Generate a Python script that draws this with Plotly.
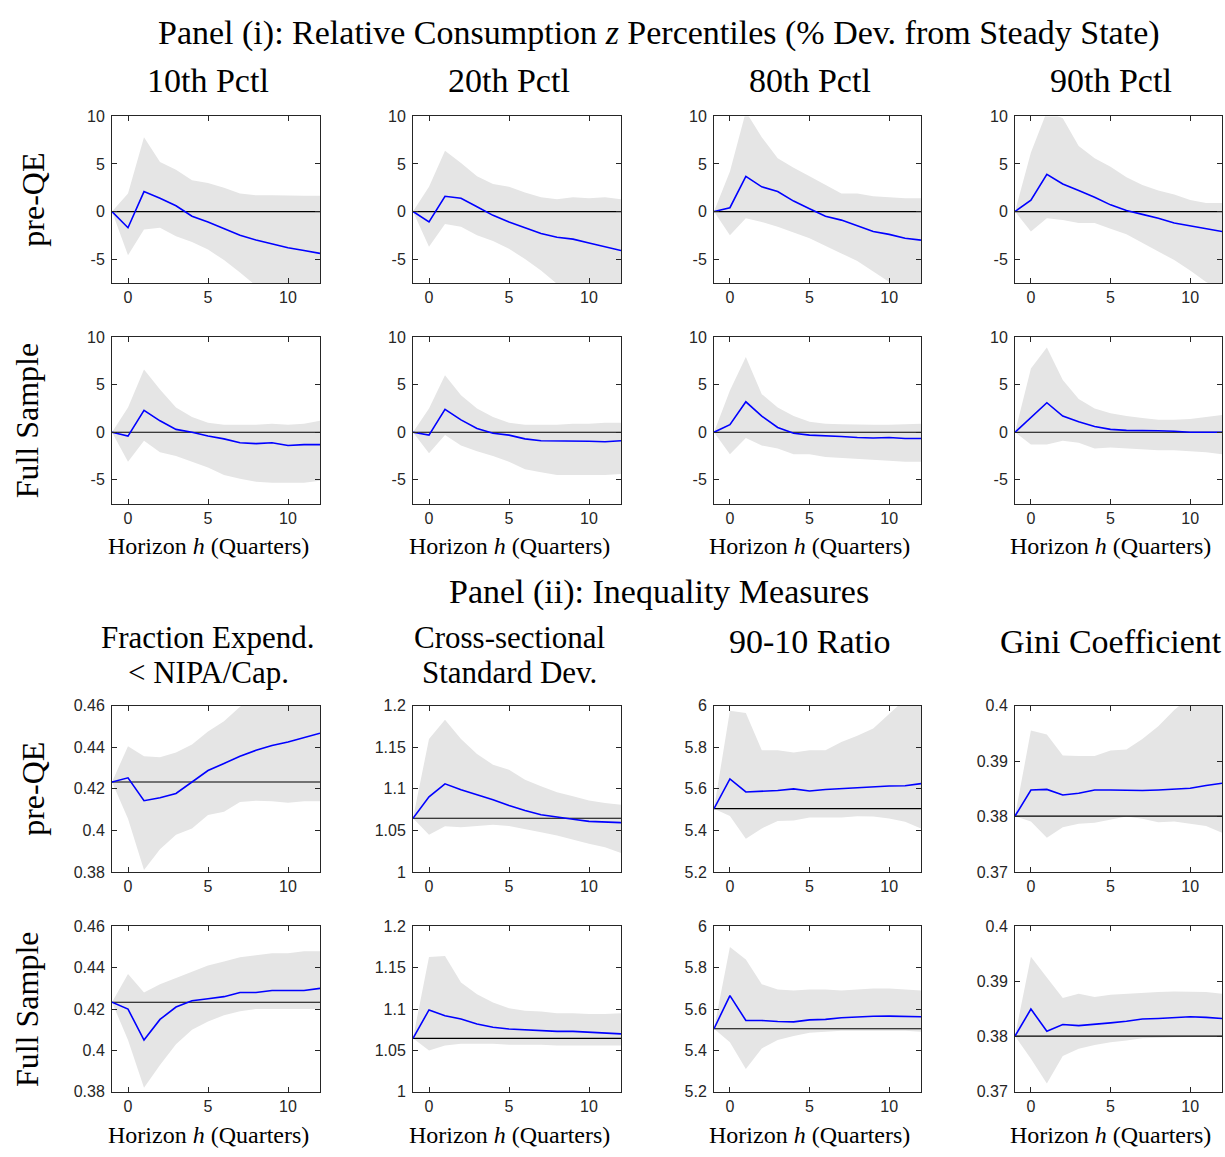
import plotly.graph_objects as go
from plotly.subplots import make_subplots

W, H = 1225, 1157

horizon = list(range(-1, 13))

# ---------------- Panel (i): relative consumption percentiles (% dev.) ----------------
# pre-QE
c10_pre_irf = [0, -1.7, 2.1, 1.4, 0.6, -0.5, -1.1, -1.8, -2.5, -3.0, -3.4, -3.8, -4.1, -4.4]
c10_pre_hi = [0, 1.9, 7.8, 5.2, 4.4, 3.3, 3.0, 2.5, 1.9, 1.7, 1.7, 1.65, 1.65, 1.65]
c10_pre_lo = [0, -4.6, -1.9, -1.7, -2.6, -3.2, -4.0, -5.1, -6.4, -7.8, -8.8, -9.8, -10.8, -11.8]

c20_pre_irf = [0, -1.1, 1.6, 1.4, 0.5, -0.4, -1.1, -1.7, -2.3, -2.7, -2.9, -3.3, -3.7, -4.1]
c20_pre_hi = [0, 2.6, 6.4, 5.1, 3.7, 2.9, 2.6, 2.0, 1.5, 1.3, 1.5, 1.4, 1.5, 1.3]
c20_pre_lo = [0, -3.7, -1.3, -1.6, -2.5, -3.1, -3.9, -5.0, -6.2, -7.6, -8.6, -9.6, -10.6, -11.6]

c80_pre_irf = [0, 0.4, 3.7, 2.6, 2.1, 1.1, 0.3, -0.5, -0.9, -1.5, -2.1, -2.4, -2.8, -3.0]
c80_pre_hi = [0, 4.2, 10.5, 7.8, 5.6, 4.6, 3.7, 2.8, 1.9, 1.9, 1.6, 1.5, 1.4, 1.4]
c80_pre_lo = [0, -2.5, -0.7, -1.1, -1.6, -2.2, -2.8, -3.6, -4.4, -5.2, -6.3, -7.4, -8.5, -9.5]

c90_pre_irf = [0, 1.2, 3.9, 2.9, 2.2, 1.5, 0.7, 0.1, -0.3, -0.7, -1.2, -1.5, -1.8, -2.1]
c90_pre_hi = [0, 6.2, 10.5, 9.8, 6.9, 5.6, 4.7, 3.6, 2.8, 2.2, 1.8, 1.2, 0.9, 0.9]
c90_pre_lo = [0, -2.1, -0.7, -0.9, -1.2, -1.2, -1.8, -2.4, -3.3, -4.2, -5.1, -6.2, -7.4, -8.3]

# full sample
c10_full_irf = [0, -0.4, 2.3, 1.2, 0.3, 0.0, -0.4, -0.7, -1.1, -1.2, -1.1, -1.4, -1.3, -1.3]
c10_full_hi = [0, 2.6, 6.6, 4.5, 2.6, 1.6, 1.0, 0.8, 0.8, 0.8, 0.9, 0.8, 0.9, 1.2]
c10_full_lo = [0, -3.1, -0.9, -2.1, -2.5, -3.1, -3.7, -4.5, -4.9, -5.2, -5.3, -5.3, -5.3, -5.1]

c20_full_irf = [0, -0.3, 2.4, 1.3, 0.4, -0.1, -0.3, -0.7, -0.9, -0.9, -0.9, -0.95, -1.0, -0.9]
c20_full_hi = [0, 2.5, 6.0, 3.9, 2.5, 1.6, 1.0, 0.8, 0.8, 0.8, 0.9, 0.9, 1.0, 1.0]
c20_full_lo = [0, -2.2, -0.3, -1.4, -2.0, -2.5, -3.1, -3.9, -4.2, -4.5, -4.5, -4.5, -4.5, -4.4]

c80_full_irf = [0, 0.8, 3.2, 1.7, 0.5, -0.1, -0.3, -0.35, -0.45, -0.55, -0.6, -0.55, -0.65, -0.65]
c80_full_hi = [0, 4.4, 7.9, 4.0, 2.6, 1.7, 1.1, 0.9, 0.85, 0.8, 0.8, 0.8, 0.85, 0.9]
c80_full_lo = [0, -2.3, -0.6, -1.4, -1.7, -2.3, -2.3, -2.6, -2.7, -2.8, -2.9, -3.0, -3.1, -3.1]

c90_full_irf = [0, 1.5, 3.1, 1.7, 1.1, 0.6, 0.3, 0.2, 0.2, 0.15, 0.1, 0.0, 0.0, 0.0]
c90_full_hi = [0, 6.7, 8.9, 5.5, 3.5, 2.5, 2.0, 1.7, 1.5, 1.3, 1.3, 1.4, 1.6, 1.8]
c90_full_lo = [0, -1.3, -1.3, -0.9, -1.1, -1.7, -1.6, -1.7, -1.8, -1.9, -1.9, -2.0, -2.1, -2.3]

# ---------------- Panel (ii): inequality measures (levels) ----------------
frac_ss = 0.4233
frac_pre_irf = [0.4233, 0.4253, 0.4143, 0.4157, 0.4178, 0.4235, 0.4288, 0.4322, 0.4357, 0.4385, 0.4408, 0.4425, 0.4445, 0.4467]
frac_pre_hi = [0.4233, 0.4405, 0.4357, 0.4352, 0.4375, 0.4413, 0.4475, 0.4525, 0.4595, 0.465, 0.47, 0.475, 0.48, 0.485]
frac_pre_lo = [0.4233, 0.4056, 0.381, 0.391, 0.398, 0.401, 0.4075, 0.409, 0.4137, 0.4143, 0.414, 0.4133, 0.414, 0.414]
frac_full_irf = [0.4233, 0.420, 0.405, 0.415, 0.421, 0.424, 0.425, 0.426, 0.428, 0.428, 0.429, 0.429, 0.429, 0.430]
frac_full_hi = [0.4233, 0.437, 0.428, 0.432, 0.435, 0.438, 0.441, 0.443, 0.445, 0.446, 0.447, 0.447, 0.448, 0.448]
frac_full_lo = [0.4233, 0.405, 0.382, 0.393, 0.403, 0.410, 0.414, 0.417, 0.419, 0.420, 0.420, 0.420, 0.420, 0.420]

sd_ss = 1.0647
sd_pre_irf = [1.0647, 1.0905, 1.106, 1.099, 1.093, 1.087, 1.080, 1.074, 1.069, 1.066, 1.0635, 1.061, 1.0605, 1.0595]
sd_pre_hi = [1.0647, 1.16, 1.183, 1.16, 1.142, 1.129, 1.123, 1.111, 1.103, 1.096, 1.091, 1.086, 1.083, 1.081]
sd_pre_lo = [1.0647, 1.045, 1.055, 1.054, 1.0555, 1.057, 1.0555, 1.052, 1.048, 1.044, 1.039, 1.034, 1.030, 1.023]
sd_full_irf = [1.0647, 1.099, 1.092, 1.088, 1.082, 1.078, 1.076, 1.075, 1.074, 1.073, 1.073, 1.072, 1.071, 1.070]
sd_full_hi = [1.0647, 1.163, 1.164, 1.132, 1.118, 1.108, 1.101, 1.098, 1.097, 1.095, 1.095, 1.094, 1.094, 1.095]
sd_full_lo = [1.0647, 1.050, 1.056, 1.058, 1.058, 1.058, 1.057, 1.057, 1.057, 1.056, 1.056, 1.056, 1.056, 1.056]

r9010_ss = 5.505
r9010_pre_irf = [5.505, 5.648, 5.585, 5.587, 5.592, 5.600, 5.590, 5.597, 5.602, 5.606, 5.610, 5.614, 5.615, 5.625]
r9010_pre_hi = [5.505, 5.975, 5.965, 5.785, 5.785, 5.775, 5.785, 5.785, 5.825, 5.855, 5.89, 5.96, 6.03, 6.08]
r9010_pre_lo = [5.505, 5.47, 5.36, 5.41, 5.445, 5.448, 5.462, 5.462, 5.462, 5.468, 5.467, 5.458, 5.442, 5.41]
r9010_full_irf = [5.505, 5.665, 5.545, 5.545, 5.540, 5.538, 5.548, 5.550, 5.558, 5.562, 5.565, 5.566, 5.566, 5.563]
r9010_full_hi = [5.505, 5.90, 5.84, 5.72, 5.695, 5.69, 5.695, 5.695, 5.69, 5.695, 5.70, 5.70, 5.695, 5.69]
r9010_full_lo = [5.505, 5.44, 5.31, 5.41, 5.45, 5.47, 5.485, 5.49, 5.495, 5.495, 5.495, 5.495, 5.495, 5.49]

gini_ss = 0.3801
gini_pre_irf = [0.3801, 0.3848, 0.3849, 0.3839, 0.3842, 0.3848, 0.3848, 0.3847, 0.3847, 0.3848, 0.3849, 0.3851, 0.3856, 0.3860]
gini_pre_hi = [0.3801, 0.3955, 0.3948, 0.391, 0.3909, 0.3909, 0.3919, 0.3921, 0.394, 0.3963, 0.3992, 0.4015, 0.404, 0.406]
gini_pre_lo = [0.3801, 0.3791, 0.3762, 0.3781, 0.3787, 0.3789, 0.3795, 0.3800, 0.3796, 0.3790, 0.3791, 0.3787, 0.3783, 0.3771]
gini_full_irf = [0.3801, 0.385, 0.381, 0.3822, 0.382, 0.3822, 0.3825, 0.3828, 0.3832, 0.3833, 0.3835, 0.3836, 0.3835, 0.3833]
gini_full_hi = [0.3801, 0.3945, 0.3907, 0.387, 0.3878, 0.3872, 0.3876, 0.3878, 0.388, 0.3881, 0.3882, 0.3882, 0.3881, 0.3878]
gini_full_lo = [0.3801, 0.376, 0.3715, 0.3765, 0.3778, 0.3785, 0.379, 0.3793, 0.3797, 0.3798, 0.3799, 0.38, 0.38, 0.38]

# tick labels
cons_ticks = [-5, 0, 5, 10]
cons_ticktext = ["-5", "0", "5", "10"]
frac_ticks = [0.38, 0.40, 0.42, 0.44, 0.46]
frac_ticktext = ["0.38", "0.4", "0.42", "0.44", "0.46"]
sd_ticks = [1.0, 1.05, 1.1, 1.15, 1.2]
sd_ticktext = ["1", "1.05", "1.1", "1.15", "1.2"]
r9010_ticks = [5.2, 5.4, 5.6, 5.8, 6.0]
r9010_ticktext = ["5.2", "5.4", "5.6", "5.8", "6"]
gini_ticks = [0.37, 0.38, 0.39, 0.40]
gini_ticktext = ["0.37", "0.38", "0.39", "0.4"]
x_ticks = [0, 5, 10]

col_titles_i = ["10th Pctl", "20th Pctl", "80th Pctl", "90th Pctl"]
col_titles_ii = [["Fraction Expend.", "&lt; NIPA/Cap."], ["Cross-sectional", "Standard Dev."],
                 ["90-10 Ratio"], ["Gini Coefficient"]]
row_labels = ["pre-QE", "Full Sample", "pre-QE", "Full Sample"]

panels = [
    # row, col, irf, lo, hi, ss, yrange, ticks, ticktext
    (1, 1, c10_pre_irf, c10_pre_lo, c10_pre_hi, 0, [-7.5, 10], cons_ticks, cons_ticktext),
    (1, 2, c20_pre_irf, c20_pre_lo, c20_pre_hi, 0, [-7.5, 10], cons_ticks, cons_ticktext),
    (1, 3, c80_pre_irf, c80_pre_lo, c80_pre_hi, 0, [-7.5, 10], cons_ticks, cons_ticktext),
    (1, 4, c90_pre_irf, c90_pre_lo, c90_pre_hi, 0, [-7.5, 10], cons_ticks, cons_ticktext),
    (2, 1, c10_full_irf, c10_full_lo, c10_full_hi, 0, [-7.5, 10], cons_ticks, cons_ticktext),
    (2, 2, c20_full_irf, c20_full_lo, c20_full_hi, 0, [-7.5, 10], cons_ticks, cons_ticktext),
    (2, 3, c80_full_irf, c80_full_lo, c80_full_hi, 0, [-7.5, 10], cons_ticks, cons_ticktext),
    (2, 4, c90_full_irf, c90_full_lo, c90_full_hi, 0, [-7.5, 10], cons_ticks, cons_ticktext),
    (3, 1, frac_pre_irf, frac_pre_lo, frac_pre_hi, frac_ss, [0.38, 0.46], frac_ticks, frac_ticktext),
    (3, 2, sd_pre_irf, sd_pre_lo, sd_pre_hi, sd_ss, [1.0, 1.2], sd_ticks, sd_ticktext),
    (3, 3, r9010_pre_irf, r9010_pre_lo, r9010_pre_hi, r9010_ss, [5.2, 6.0], r9010_ticks, r9010_ticktext),
    (3, 4, gini_pre_irf, gini_pre_lo, gini_pre_hi, gini_ss, [0.37, 0.40], gini_ticks, gini_ticktext),
    (4, 1, frac_full_irf, frac_full_lo, frac_full_hi, frac_ss, [0.38, 0.46], frac_ticks, frac_ticktext),
    (4, 2, sd_full_irf, sd_full_lo, sd_full_hi, sd_ss, [1.0, 1.2], sd_ticks, sd_ticktext),
    (4, 3, r9010_full_irf, r9010_full_lo, r9010_full_hi, r9010_ss, [5.2, 6.0], r9010_ticks, r9010_ticktext),
    (4, 4, gini_full_irf, gini_full_lo, gini_full_hi, gini_ss, [0.37, 0.40], gini_ticks, gini_ticktext),
]

# layout geometry (page pixels)
col_px = [(112, 320), (413, 621), (714, 921), (1015, 1222)]
row_px = [(110, 279), (334, 503), (708, 877), (932, 1100)]


def fx(px):
    return px / W


def fy(py):
    return 1 - py / H


SERIF = "Liberation Serif, Times New Roman, serif"
SANS = "Liberation Sans, Arial, Helvetica, sans-serif"
AXC = "rgb(38,38,38)"
BAND = "rgb(229,229,229)"

fig = make_subplots(rows=4, cols=4)

for (r, c, irf, lo, hi, ss, yr, tv, tt) in panels:
    xs = horizon + horizon[::-1]
    ys = hi + lo[::-1]
    fig.add_trace(go.Scatter(x=xs, y=ys, fill="toself", fillcolor=BAND, mode="lines",
                             line=dict(width=0, color=BAND), hoverinfo="skip", showlegend=False),
                  row=r, col=c)
    fig.add_trace(go.Scatter(x=[horizon[0], horizon[-1]], y=[ss, ss], mode="lines",
                             line=dict(color="black", width=1.2), showlegend=False),
                  row=r, col=c)
    fig.add_trace(go.Scatter(x=horizon, y=irf, mode="lines",
                             line=dict(color="rgb(0,0,255)", width=1.6), showlegend=False),
                  row=r, col=c)
    x0, x1 = col_px[c - 1]
    y0, y1 = row_px[r - 1]
    fig.update_xaxes(domain=[fx(x0), fx(x1)], range=[horizon[0], horizon[-1]], tickvals=x_ticks,
                     ticks="inside", ticklen=5, tickcolor=AXC, showline=True, linecolor=AXC, linewidth=1,
                     mirror="ticks", showgrid=False, zeroline=False,
                     tickfont=dict(family=SANS, size=16, color=AXC), row=r, col=c)
    fig.update_yaxes(domain=[fy(y1), fy(y0)], range=yr, tickvals=tv, ticktext=tt,
                     ticks="inside", ticklen=5, tickcolor=AXC, showline=True, linecolor=AXC, linewidth=1,
                     mirror="ticks", showgrid=False, zeroline=False, ticklabelstandoff=3,
                     tickfont=dict(family=SANS, size=16, color=AXC), row=r, col=c)

ann = []


def add_text(text, px, py, size, angle=0):
    ann.append(dict(text=text, x=fx(px), y=fy(py), xref="paper", yref="paper",
                    xanchor="center", yanchor="middle", showarrow=False, textangle=angle,
                    font=dict(family=SERIF, size=size, color="black")))


TS = 34
add_text("Panel (i): Relative Consumption <i>z</i> Percentiles (% Dev. from Steady State)", 659, 25, TS)
add_text("Panel (ii): Inequality Measures", 659, 593, TS)
for i, t in enumerate(col_titles_i):
    xc = sum(col_px[i]) / 2 - 8
    add_text(t, xc, 74, TS)
for i, lines in enumerate(col_titles_ii):
    xc = sum(col_px[i]) / 2 - 8
    if len(lines) == 1:
        add_text(lines[0], xc, 643, TS)
    else:
        for k, line in enumerate(lines):
            add_text(line, xc, 639 + 35 * k, 31)
for i in range(4):
    xc = sum(col_px[i]) / 2 - 8
    add_text("Horizon <i>h</i> (Quarters)", xc, 546, 24)
    add_text("Horizon <i>h</i> (Quarters)", xc, 1144, 24)
for i, lab in enumerate(row_labels):
    yc = sum(row_px[i]) / 2
    xpos = 33 if lab == "pre-QE" else 27
    add_text(lab, xpos, yc, 32, angle=-90)

fig.update_layout(width=W, height=H, margin=dict(l=0, r=0, t=0, b=0),
                  paper_bgcolor="white", plot_bgcolor="white", annotations=ann, showlegend=False)

# remove the default page margin so the figure sits exactly in the window
fig.write_html("out.html", config={"displayModeBar": False},
               post_script="document.body.style.margin='0px';document.body.style.overflow='hidden';")
